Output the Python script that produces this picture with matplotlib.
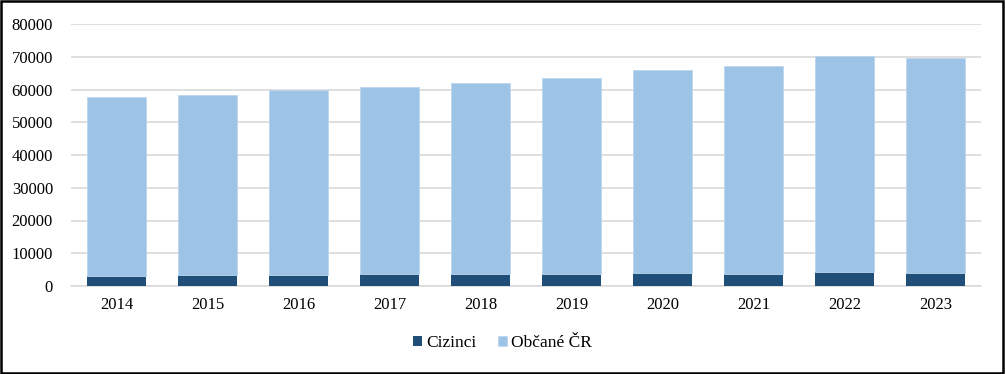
import numpy as np
import matplotlib.pyplot as plt
from matplotlib.patches import Rectangle

years = ['2014', '2015', '2016', '2017', '2018', '2019', '2020', '2021', '2022', '2023']
cizinci = [3150, 3350, 3450, 3650, 3650, 3750, 3850, 3650, 4250, 3950]
celkem = [57700, 58300, 59850, 60750, 62000, 63600, 65850, 67150, 70250, 69650]
obcane = [c - z for c, z in zip(celkem, cizinci)]

plt.rcParams['font.family'] = ['Liberation Serif', 'DejaVu Serif']

fig = plt.figure(figsize=(10.05, 3.74), dpi=100)
ax = fig.add_axes([71 / 1005, 88 / 374, 910 / 1005, 262 / 374])

x = np.arange(len(years))
ax.bar(x, cizinci, width=0.64, color='#1F4E79', label='Cizinci', zorder=3)
ax.bar(x, obcane, width=0.64, bottom=cizinci, color='#9DC3E6',
       edgecolor='#BDD7EE', linewidth=0.6, label='Občané ČR', zorder=3)

ax.set_xlim(-0.5, len(years) - 0.5)
ax.set_ylim(0, 80000)
ax.set_yticks(range(0, 80001, 10000))
ax.set_xticks(x)
ax.set_xticklabels(years)
ax.tick_params(length=0, labelsize=12, colors='black')
ax.tick_params(axis='y', pad=13)
ax.tick_params(axis='x', pad=8)
ax.grid(axis='y', color='#D9D9D9', linewidth=1.2, zorder=0)
for s in ['top', 'right', 'left']:
    ax.spines[s].set_visible(False)
ax.spines['bottom'].set_color('#D9D9D9')
ax.spines['bottom'].set_linewidth(1.2)

fig.legend(loc='center', bbox_to_anchor=(0.5, 1 - 343 / 374), ncol=2, frameon=False,
           prop={'family': 'Liberation Serif', 'size': 12.5},
           handlelength=0.55, handleheight=0.55, handletextpad=0.25,
           columnspacing=1.2)

fig.patches.append(Rectangle((0.001, 0.002), 0.997, 0.995, transform=fig.transFigure,
                             fill=False, edgecolor='black', linewidth=1.8))

fig.savefig('out.png', dpi=100)
